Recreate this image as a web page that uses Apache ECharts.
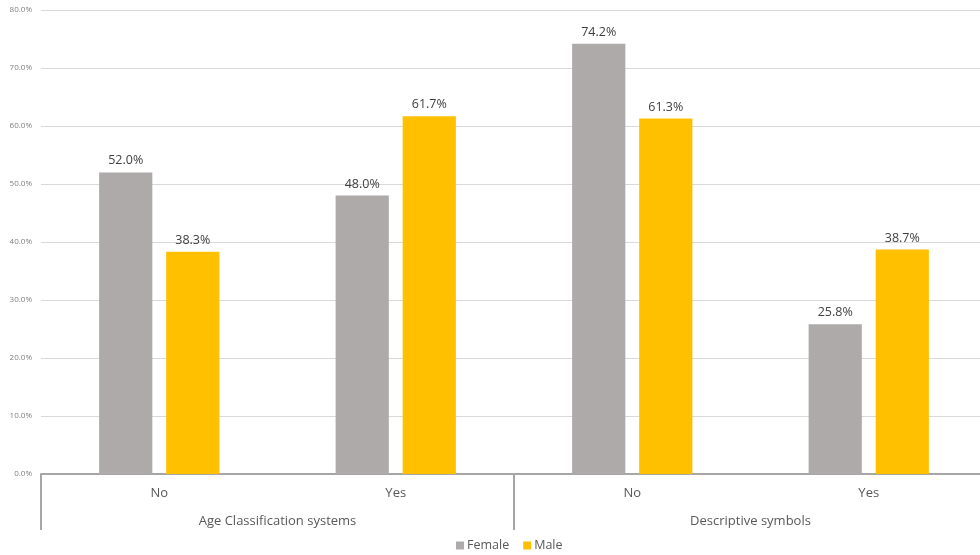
<!DOCTYPE html>
<html><head><meta charset="utf-8">
<script src="https://cdn.jsdelivr.net/npm/echarts@6/dist/echarts.min.js"></script>
<style>html,body{margin:0;padding:0;background:#fff}#c{width:980px;height:555px}</style>
</head><body><div id="c"></div>
<script>
const categories = ['No', 'Yes', 'No', 'Yes'];
const groups = ['Age Classification systems', 'Descriptive symbols'];
const female = [52.0, 48.0, 74.2, 25.8];
const male = [38.3, 61.7, 61.3, 38.7];
const seriesNames = ['Female', 'Male'];

const chart = echarts.init(document.getElementById('c'));
const font = '"Open Sans", "Noto Sans", sans-serif';
const labelCfg = {
  show: true, position: 'top', distance: 5, color: '#404040', fontSize: 12.5, fontFamily: font,
  formatter: p => p.value.toFixed(1) + '%'
};
chart.setOption({
  animation: false,
  textStyle: { fontFamily: font },
  grid: { left: 41, width: 946, top: 10, height: 464, containLabel: false, outerBoundsMode: 'none' },
  legend: {
    bottom: -2, left: 451, itemWidth: 8, itemHeight: 8, itemGap: 14,
    icon: 'rect', textStyle: { color: '#595959', fontSize: 12.5, fontFamily: font, padding: [0, 0, 0, -2] },
    data: seriesNames
  },
  xAxis: [
    {
      type: 'category', data: categories, position: 'bottom',
      axisLine: { lineStyle: { color: '#a6a6a6', width: 2 } },
      axisTick: { show: false },
      axisLabel: { color: '#595959', fontSize: 13, margin: 13, fontFamily: font }
    },
    {
      type: 'category', data: groups, position: 'bottom',
      axisLine: { show: false },
      axisTick: { show: true, length: 56, interval: 0, lineStyle: { color: '#a6a6a6', width: 2 } },
      axisLabel: { color: '#595959', fontSize: 13, margin: 41, interval: 0, fontFamily: font },
      splitLine: { show: false }
    }
  ],
  yAxis: {
    type: 'value', min: 0, max: 80, interval: 10,
    axisLine: { show: false }, axisTick: { show: false },
    splitLine: { lineStyle: { color: '#d9d9d9', width: 1 } },
    axisLabel: { color: '#7f7f7f', fontSize: 8, margin: 9, formatter: v => v.toFixed(1) + '%', fontFamily: font }
  },
  series: [
    { name: seriesNames[0], type: 'bar', data: female, xAxisIndex: 0, barWidth: '22.5%', barGap: '26%',
      itemStyle: { color: '#aeaaaa' }, label: labelCfg },
    { name: seriesNames[1], type: 'bar', data: male, xAxisIndex: 0, barWidth: '22.5%', barGap: '26%',
      itemStyle: { color: '#ffc000' }, label: labelCfg }
  ]
});
</script></body></html>
